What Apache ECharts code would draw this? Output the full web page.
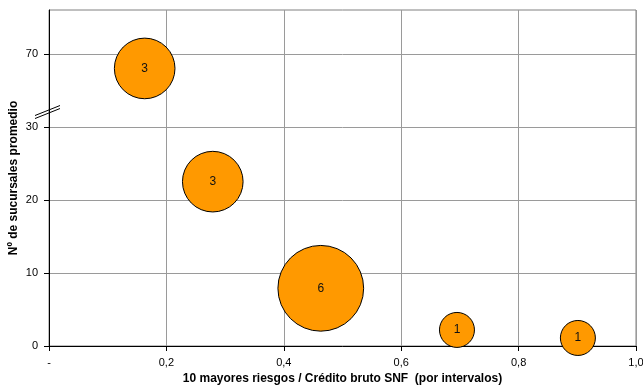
<!DOCTYPE html>
<html>
<head>
<meta charset="utf-8">
<script src="https://cdn.jsdelivr.net/npm/echarts@6/dist/echarts.min.js"></script>
<style>
  html, body { margin: 0; padding: 0; background: #fff; }
  #chart { width: 643px; height: 387px; }
</style>
</head>
<body>
<div id="chart"></div>
<script>
// Ratio of the ten largest exposures to gross credit (interval midpoints)
var ratio = [0.163, 0.279, 0.463, 0.695, 0.901];
// Average number of branches per interval
var branches = [68, 22.5, 7.9, 2.2, 1.1];
// Number of entities in each interval (bubble size and label)
var entities = [3, 3, 6, 1, 1];

var xTicks = [0, 0.2, 0.4, 0.6, 0.8, 1.0];
var yTickLabels = ['0', '10', '20', '30', '70'];

// Broken y axis: values above the break are shifted down by this gap
var BREAK_AT = 30;
var BREAK_GAP = 30;
function toAxis(v) { return v > BREAK_AT ? v - BREAK_GAP : v; }

var font = '"Liberation Sans", Arial, sans-serif';

var data = ratio.map(function (x, i) {
  return [x, toAxis(branches[i]), entities[i]];
});

var chart = echarts.init(document.getElementById('chart'));
chart.setOption({
  animation: false,
  backgroundColor: '#fff',
  grid: {
    left: 49, right: 7, top: 10, bottom: 41,
    containLabel: false, outerBoundsMode: 'none',
    show: true, borderColor: '#808080', borderWidth: 1
  },
  xAxis: {
    type: 'value', min: 0, max: 1, interval: 0.2,
    name: '10 mayores riesgos / Crédito bruto SNF  (por intervalos)',
    nameLocation: 'middle', nameGap: 27, nameMoveOverlap: false,
    nameTextStyle: { fontFamily: font, fontSize: 12, fontWeight: 'bold', color: '#000' },
    axisLine: { show: true, lineStyle: { color: '#000', width: 1 } },
    axisTick: { show: true, inside: false, length: 5, lineStyle: { color: '#000' } },
    axisLabel: {
      fontFamily: font, fontSize: 11, color: '#000', margin: 11,
      formatter: function (v) {
        if (Math.abs(v) < 1e-9) return '-';
        return v.toFixed(1).replace('.', ',');
      }
    },
    splitLine: { show: true, lineStyle: { color: '#9a9a9a', width: 1 } }
  },
  yAxis: {
    type: 'value', min: 0, max: 46, interval: 10,
    name: 'Nº de sucursales promedio',
    nameLocation: 'middle', nameGap: 29, nameMoveOverlap: false,
    nameTextStyle: { fontFamily: font, fontSize: 12, fontWeight: 'bold', color: '#000' },
    axisLine: { show: true, lineStyle: { color: '#000', width: 1 } },
    axisTick: {
      show: true, inside: false, length: 5, lineStyle: { color: '#000' },
      customValues: [0, 10, 20, 30, 40]
    },
    axisLabel: {
      fontFamily: font, fontSize: 11, color: '#000', margin: 11,
      customValues: [0, 10, 20, 30, 40],
      formatter: function (v) {
        var i = Math.round(v / 10);
        return (Math.abs(v - i * 10) < 1e-6 && yTickLabels[i] !== undefined) ? yTickLabels[i] : '';
      }
    },
    splitLine: { show: true, lineStyle: { color: '#9a9a9a', width: 1 } }
  },
  series: [{
    type: 'scatter',
    data: data,
    symbol: 'circle',
    symbolSize: function (d) { return 35 * Math.sqrt(d[2]); },
    itemStyle: { color: '#FF9900', borderColor: '#000', borderWidth: 1, opacity: 1 },
    label: {
      show: true, position: 'inside',
      fontFamily: font, fontSize: 12, color: '#111',
      formatter: function (p) { return String(p.data[2]); }
    },
    emphasis: { disabled: true },
    z: 3
  }]
});

// Axis-break marks: two short parallel strokes across the y axis
var p = chart.convertToPixel({ gridIndex: 0 }, [0, 32.1]);
chart.setOption({
  graphic: [0, 3].map(function (off) {
    return {
      type: 'line', z: 100,
      shape: { x1: p[0] - 14, y1: p[1] + 4 + off, x2: p[0] + 11, y2: p[1] - 6 + off },
      style: { stroke: '#000', lineWidth: 1 }
    };
  })
});
</script>
</body>
</html>
